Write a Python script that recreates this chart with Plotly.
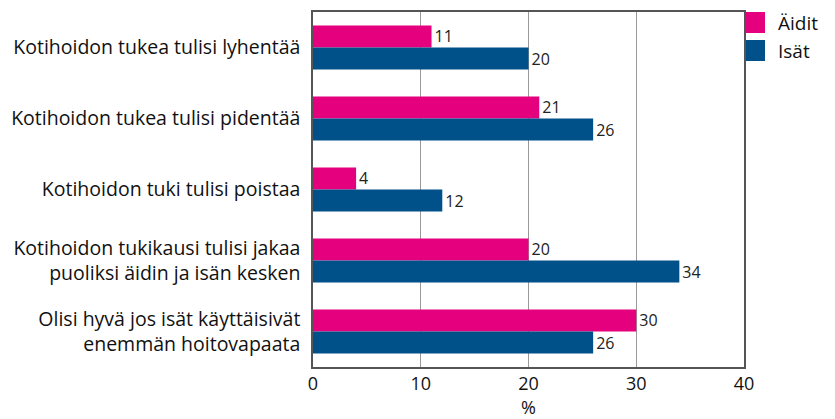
import plotly.graph_objects as go

categories = [
    "Kotihoidon tukea tulisi lyhentää",
    "Kotihoidon tukea tulisi pidentää",
    "Kotihoidon tuki tulisi poistaa",
    "Kotihoidon tukikausi tulisi jakaa<br>puoliksi äidin ja isän kesken",
    "Olisi hyvä jos isät käyttäisivät<br>enemmän hoitovapaata",
]
aidit = [11, 21, 4, 20, 30]
isat = [20, 26, 12, 34, 26]
series_names = ["Äidit", "Isät"]
x_ticks = [0, 10, 20, 30, 40]

PINK = "#E5007D"
BLUE = "#00508A"
FONT = "Open Sans"

OFF = 8  # page body margin
L, R, T, B = 313 - OFF, 744 - OFF, 12 - OFF, 367 - OFF
W, H = 835 - OFF, 419 - OFF
pw, ph = R - L, B - T

def px(p):
    return (p - OFF - L) / pw

def py(p):
    return (B - (p - OFF)) / ph

fig = go.Figure()
for name, vals, col in [(series_names[0], aidit, PINK), (series_names[1], isat, BLUE)]:
    fig.add_trace(go.Bar(
        y=categories, x=vals, orientation="h", name=name,
        marker=dict(color=col, line=dict(width=0)),
        text=[str(v) for v in vals], textposition="outside",
        textfont=dict(size=16, color="#222", family=FONT),
        cliponaxis=False, showlegend=False,
    ))

# legend drawn as squares + labels
for i, (name, col) in enumerate(zip(series_names, [PINK, BLUE])):
    y0 = 12 + i * 28
    fig.add_shape(type="rect", xref="paper", yref="paper",
                  x0=px(746), x1=px(765), y0=py(y0 + 21), y1=py(y0),
                  fillcolor=col, line=dict(width=0))
    fig.add_annotation(xref="paper", yref="paper", x=px(776), y=py(y0 + 11),
                       text=name, showarrow=False, xanchor="left", yanchor="middle",
                       font=dict(size=19, family=FONT, color="#111"))

fig.update_layout(
    width=W, height=H,
    margin=dict(l=L, r=W - R, t=T, b=H - B),
    barmode="group", bargap=0.38, bargroupgap=0,
    plot_bgcolor="white", paper_bgcolor="white",
    font=dict(family=FONT, color="#111", size=19),
    showlegend=False,
    xaxis=dict(range=[0, 40], tickvals=x_ticks, showgrid=True,
               gridcolor="#999", gridwidth=1, zeroline=False,
               showline=True, linecolor="#555", linewidth=1.5, mirror=True,
               ticks="", tickfont=dict(size=18), automargin=False,
               title=dict(text="%", font=dict(size=18), standoff=0)),
    yaxis=dict(autorange="reversed", showline=True, linecolor="#555",
               linewidth=1.5, mirror=True, ticks="", showgrid=False,
               tickfont=dict(size=19.5), ticklabelstandoff=7, automargin=False),
)

fig.write_html("out.html")
